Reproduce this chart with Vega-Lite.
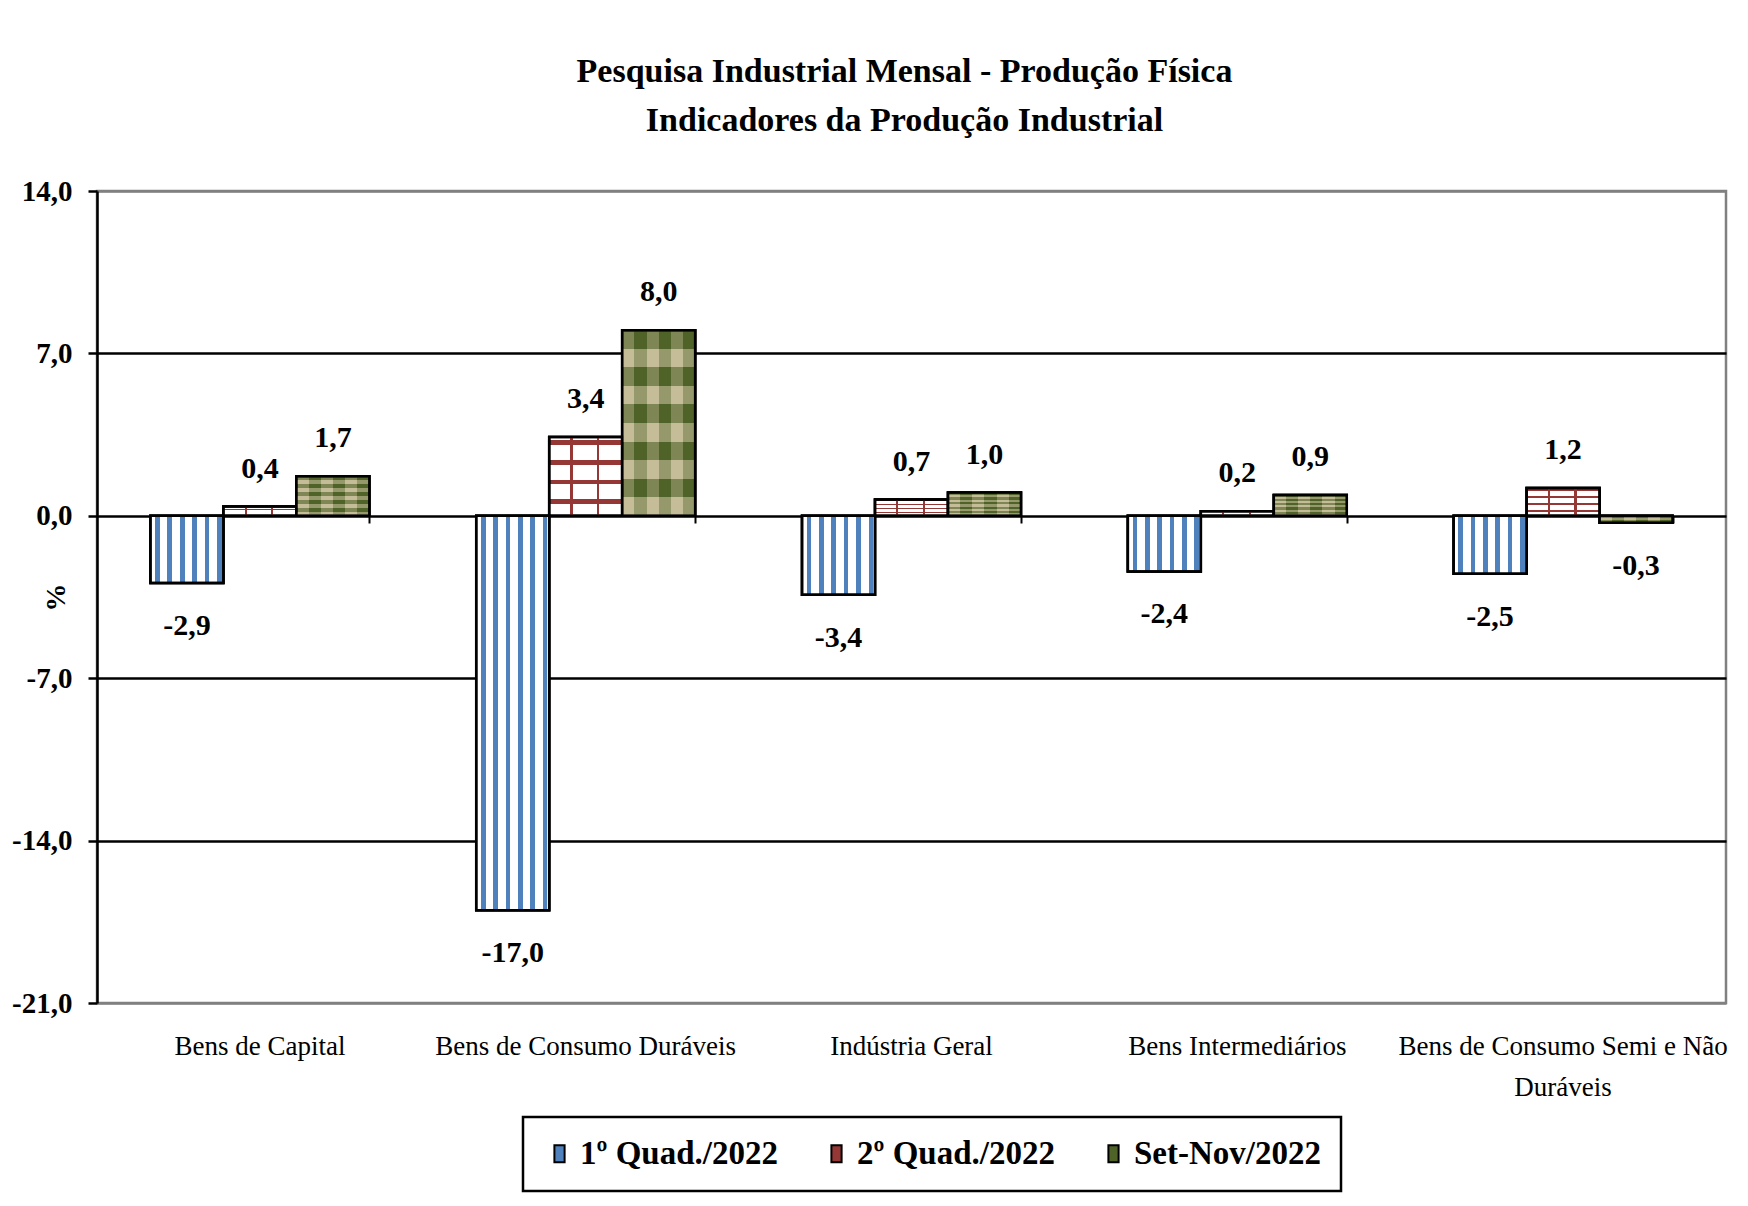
{
  "$schema": "https://vega.github.io/schema/vega-lite/v6.json",
  "width": 1629,
  "height": 812,
  "autosize": {"type": "none"},
  "padding": {"left": 97, "top": 191, "right": 22, "bottom": 203},
  "background": "white",
  "config": {
    "locale": {"number": {"decimal": ",", "thousands": ".", "grouping": [3], "currency": ["R$ ", ""], "minus": "-"}},
    "font": "Liberation Serif",
    "view": {"stroke": "#808080", "strokeWidth": 2.5},
    "legend": {"strokeWidth": 2.5}
  },
  "title": {
    "text": ["Pesquisa Industrial Mensal - Produção Física", "Indicadores da Produção Industrial"],
    "font": "Liberation Serif", "fontSize": 34, "fontWeight": "bold", "lineHeight": 49,
    "offset": 39, "dx": -7, "color": "black"
  },
  "data": {"values": [
    {"categoria": "Bens de Capital", "serie": "1º Quad./2022", "valor": -2.9},
    {"categoria": "Bens de Capital", "serie": "2º Quad./2022", "valor": 0.4},
    {"categoria": "Bens de Capital", "serie": "Set-Nov/2022", "valor": 1.7},
    {"categoria": "Bens de Consumo Duráveis", "serie": "1º Quad./2022", "valor": -17.0},
    {"categoria": "Bens de Consumo Duráveis", "serie": "2º Quad./2022", "valor": 3.4},
    {"categoria": "Bens de Consumo Duráveis", "serie": "Set-Nov/2022", "valor": 8.0},
    {"categoria": "Indústria Geral", "serie": "1º Quad./2022", "valor": -3.4},
    {"categoria": "Indústria Geral", "serie": "2º Quad./2022", "valor": 0.7},
    {"categoria": "Indústria Geral", "serie": "Set-Nov/2022", "valor": 1.0},
    {"categoria": "Bens Intermediários", "serie": "1º Quad./2022", "valor": -2.4},
    {"categoria": "Bens Intermediários", "serie": "2º Quad./2022", "valor": 0.2},
    {"categoria": "Bens Intermediários", "serie": "Set-Nov/2022", "valor": 0.9},
    {"categoria": "Bens de Consumo Semi e Não Duráveis", "serie": "1º Quad./2022", "valor": -2.5},
    {"categoria": "Bens de Consumo Semi e Não Duráveis", "serie": "2º Quad./2022", "valor": 1.2},
    {"categoria": "Bens de Consumo Semi e Não Duráveis", "serie": "Set-Nov/2022", "valor": -0.3}
  ]},
  "layer": [
    {
      "mark": {"type": "bar", "stroke": "black", "strokeWidth": 2.5},
      "encoding": {
        "x": {"field": "categoria", "type": "nominal", "sort": null,
          "scale": {"paddingInner": 0.328, "paddingOuter": 0.164},
          "axis": {"title": null, "labelAngle": 0, "domain": false, "ticks": false, "labelFontSize": 27, "labelColor": "black", "labelPadding": 30, "labelLineHeight": 41, "labelLimit": 400,
            "labelExpr": "datum.value == 'Bens de Consumo Semi e Não Duráveis' ? ['Bens de Consumo Semi e Não', 'Duráveis'] : datum.label"}},
        "xOffset": {"field": "serie", "type": "nominal", "sort": null, "scale": {"domain": ["1º Quad./2022", "2º Quad./2022", "Set-Nov/2022"], "paddingInner": 0, "paddingOuter": 0}},
        "y": {"field": "valor", "type": "quantitative",
          "scale": {"domain": [-21, 14], "nice": false, "zero": false},
          "axis": {"values": [-21, -14, -7, 0, 7, 14], "format": ".1f", "labelFontSize": 29, "labelFontWeight": "bold", "labelColor": "black", "labelPadding": 16,
            "tickSize": 9, "tickWidth": 2.5, "tickColor": "black", "domainColor": "black", "domainWidth": 2.5,
            "grid": true, "gridWidth": 2.5,
            "gridColor": {"condition": {"test": "datum.value === 14 || datum.value === -21", "value": "#808080"}, "value": "black"},
            "title": "%", "titleFontSize": 28, "titleFontWeight": "bold", "titleColor": "black", "titleX": -27, "titleY": 406}},
        "color": {"field": "serie", "type": "nominal",
          "scale": {"domain": ["1º Quad./2022", "2º Quad./2022", "Set-Nov/2022"], "range": ["#4F81BD", "#953735", "#4F6228"]},
          "legend": {"title": null, "orient": "none", "legendX": 426, "legendY": 926, "direction": "horizontal", "strokeColor": "black", "fillColor": "white", "padding": 20,
            "labelFontSize": 33, "labelFontWeight": "bold", "labelColor": "black", "labelLimit": 400,
            "symbolType": "M-0.6,-1H0.6V1H-0.6Z", "symbolSize": 289, "symbolStrokeColor": "black", "symbolStrokeWidth": 2, "symbolOpacity": 1,
            "columnPadding": 42, "labelOffset": 4}}
      }
    },
    {
      "mark": {"type": "bar", "stroke": "black", "strokeWidth": 2.5},
      "encoding": {
        "x": {"field": "categoria", "type": "nominal", "sort": null, "axis": null},
        "xOffset": {"field": "serie", "type": "nominal", "sort": null},
        "y": {"field": "valor", "type": "quantitative"},
        "fill": {
          "condition": [
            {"test": "datum.serie === '1º Quad./2022'", "value": {"gradient": "linear", "x1": 0, "y1": 0, "x2": 1, "y2": 0, "stops": [
              {"offset": 0, "color": "#ffffff"}, {"offset": 0.064, "color": "#ffffff"}, {"offset": 0.064, "color": "#4F81BD"}, {"offset": 0.128, "color": "#4F81BD"},
              {"offset": 0.128, "color": "#ffffff"}, {"offset": 0.233, "color": "#ffffff"}, {"offset": 0.233, "color": "#4F81BD"}, {"offset": 0.297, "color": "#4F81BD"},
              {"offset": 0.297, "color": "#ffffff"}, {"offset": 0.403, "color": "#ffffff"}, {"offset": 0.403, "color": "#4F81BD"}, {"offset": 0.467, "color": "#4F81BD"},
              {"offset": 0.467, "color": "#ffffff"}, {"offset": 0.572, "color": "#ffffff"}, {"offset": 0.572, "color": "#4F81BD"}, {"offset": 0.636, "color": "#4F81BD"},
              {"offset": 0.636, "color": "#ffffff"}, {"offset": 0.742, "color": "#ffffff"}, {"offset": 0.742, "color": "#4F81BD"}, {"offset": 0.806, "color": "#4F81BD"},
              {"offset": 0.806, "color": "#ffffff"}, {"offset": 0.911, "color": "#ffffff"}, {"offset": 0.911, "color": "#4F81BD"}, {"offset": 0.975, "color": "#4F81BD"},
              {"offset": 0.975, "color": "#ffffff"}, {"offset": 1, "color": "#ffffff"}]}},
            {"test": "datum.serie === '2º Quad./2022'", "value": {"gradient": "linear", "x1": 0, "y1": 0, "x2": 0, "y2": 1, "stops": [
              {"offset": 0, "color": "#ffffff"}, {"offset": 0.04, "color": "#ffffff"}, {"offset": 0.04, "color": "#953735"}, {"offset": 0.1, "color": "#953735"},
              {"offset": 0.1, "color": "#ffffff"}, {"offset": 0.29, "color": "#ffffff"}, {"offset": 0.29, "color": "#953735"}, {"offset": 0.35, "color": "#953735"},
              {"offset": 0.35, "color": "#ffffff"}, {"offset": 0.54, "color": "#ffffff"}, {"offset": 0.54, "color": "#953735"}, {"offset": 0.6, "color": "#953735"},
              {"offset": 0.6, "color": "#ffffff"}, {"offset": 0.79, "color": "#ffffff"}, {"offset": 0.79, "color": "#953735"}, {"offset": 0.85, "color": "#953735"},
              {"offset": 0.85, "color": "#ffffff"}, {"offset": 1, "color": "#ffffff"}]}}
          ],
          "value": {"gradient": "linear", "x1": 0, "y1": 0, "x2": 1, "y2": 0, "stops": [
            {"offset": 0, "color": "#C4BD97"}, {"offset": 0.1667, "color": "#C4BD97"}, {"offset": 0.1667, "color": "#4F6228"}, {"offset": 0.3333, "color": "#4F6228"},
            {"offset": 0.3333, "color": "#C4BD97"}, {"offset": 0.5, "color": "#C4BD97"}, {"offset": 0.5, "color": "#4F6228"}, {"offset": 0.6667, "color": "#4F6228"},
            {"offset": 0.6667, "color": "#C4BD97"}, {"offset": 0.8333, "color": "#C4BD97"}, {"offset": 0.8333, "color": "#4F6228"}, {"offset": 1, "color": "#4F6228"}]}
        }
      }
    },
    {
      "mark": {"type": "bar", "stroke": "black", "strokeWidth": 2.5},
      "encoding": {
        "x": {"field": "categoria", "type": "nominal", "sort": null, "axis": null},
        "xOffset": {"field": "serie", "type": "nominal", "sort": null},
        "y": {"field": "valor", "type": "quantitative"},
        "fill": {
          "condition": [
            {"test": "datum.serie === '2º Quad./2022'", "value": {"gradient": "linear", "x1": 0, "y1": 0, "x2": 1, "y2": 0, "stops": [
              {"offset": 0, "color": "rgba(255,255,255,0)"}, {"offset": 0.29, "color": "rgba(255,255,255,0)"}, {"offset": 0.29, "color": "#953735"}, {"offset": 0.32, "color": "#953735"},
              {"offset": 0.32, "color": "rgba(255,255,255,0)"}, {"offset": 0.655, "color": "rgba(255,255,255,0)"}, {"offset": 0.655, "color": "#953735"}, {"offset": 0.685, "color": "#953735"},
              {"offset": 0.685, "color": "rgba(255,255,255,0)"}, {"offset": 1, "color": "rgba(255,255,255,0)"}]}},
            {"test": "datum.serie === 'Set-Nov/2022'", "value": {"gradient": "linear", "x1": 0, "y1": 0, "x2": 0, "y2": 1, "stops": [
              {"offset": 0, "color": "rgba(79,98,40,0.6)"}, {"offset": 0.1, "color": "rgba(79,98,40,0.6)"}, {"offset": 0.1, "color": "rgba(196,189,151,0.6)"}, {"offset": 0.2, "color": "rgba(196,189,151,0.6)"},
              {"offset": 0.2, "color": "rgba(79,98,40,0.6)"}, {"offset": 0.3, "color": "rgba(79,98,40,0.6)"}, {"offset": 0.3, "color": "rgba(196,189,151,0.6)"}, {"offset": 0.4, "color": "rgba(196,189,151,0.6)"},
              {"offset": 0.4, "color": "rgba(79,98,40,0.6)"}, {"offset": 0.5, "color": "rgba(79,98,40,0.6)"}, {"offset": 0.5, "color": "rgba(196,189,151,0.6)"}, {"offset": 0.6, "color": "rgba(196,189,151,0.6)"},
              {"offset": 0.6, "color": "rgba(79,98,40,0.6)"}, {"offset": 0.7, "color": "rgba(79,98,40,0.6)"}, {"offset": 0.7, "color": "rgba(196,189,151,0.6)"}, {"offset": 0.8, "color": "rgba(196,189,151,0.6)"},
              {"offset": 0.8, "color": "rgba(79,98,40,0.6)"}, {"offset": 0.9, "color": "rgba(79,98,40,0.6)"}, {"offset": 0.9, "color": "rgba(196,189,151,0.6)"}, {"offset": 1, "color": "rgba(196,189,151,0.6)"}]}}
          ],
          "value": "transparent"
        }
      }
    },
    {
      "transform": [{"filter": "datum.valor >= 0"}],
      "mark": {"type": "text", "dy": -38, "baseline": "middle", "align": "center", "fontSize": 30, "fontWeight": "bold", "color": "black"},
      "encoding": {
        "x": {"field": "categoria", "type": "nominal", "sort": null,
          "axis": {"orient": "top", "offset": -325, "labels": false, "domain": false, "ticks": true, "tickBand": "extent", "tickSize": -7, "tickWidth": 2, "tickColor": "black", "title": null, "grid": false}},
        "xOffset": {"field": "serie", "type": "nominal", "sort": null},
        "y": {"field": "valor", "type": "quantitative"},
        "text": {"field": "valor", "type": "quantitative", "format": ".1f"}
      }
    },
    {
      "transform": [{"filter": "datum.valor < 0"}],
      "mark": {"type": "text", "dy": 43, "baseline": "middle", "align": "center", "fontSize": 30, "fontWeight": "bold", "color": "black"},
      "encoding": {
        "x": {"field": "categoria", "type": "nominal", "sort": null, "axis": null},
        "xOffset": {"field": "serie", "type": "nominal", "sort": null},
        "y": {"field": "valor", "type": "quantitative"},
        "text": {"field": "valor", "type": "quantitative", "format": ".1f"}
      }
    }
  ],
  "resolve": {"axis": {"x": "independent"}}
}
